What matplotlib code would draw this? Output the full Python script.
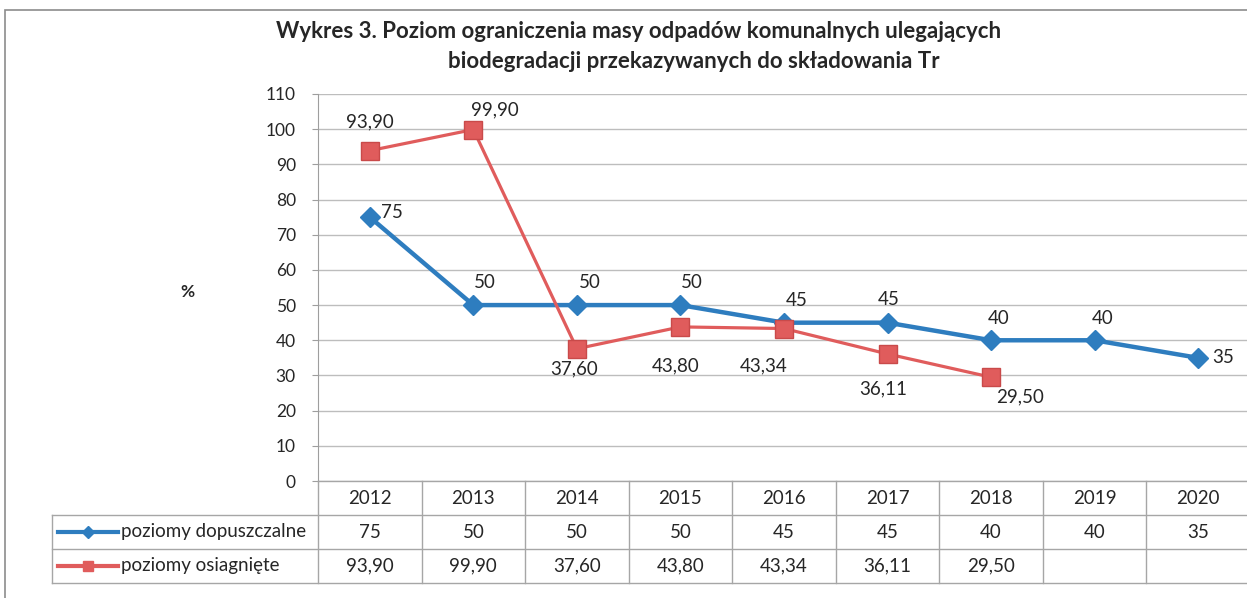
import matplotlib
matplotlib.use('Agg')
import matplotlib.pyplot as plt
from matplotlib.patches import Rectangle
from matplotlib.lines import Line2D

plt.rcParams['font.family'] = ['Lato', 'DejaVu Sans']

years = ['2012', '2013', '2014', '2015', '2016', '2017', '2018', '2019', '2020']
dopuszczalne = [75, 50, 50, 50, 45, 45, 40, 40, 35]
osiagniete = [93.90, 99.90, 37.60, 43.80, 43.34, 36.11, 29.50]
name_dop = 'poziomy dopuszczalne'
name_osi = 'poziomy osiagnięte'
title1 = 'Wykres 3. Poziom ograniczenia masy odpadów komunalnych ulegających'
title2 = 'biodegradacji przekazywanych do składowania Tr'

blue = '#2E7DBF'
red = '#E05C5C'
grid_c = '#BDBDBD'
txt_c = '#262626'

# label offsets in pixels (dx, dy up)
off_dop = [(22, 5), (11, 23), (13, 23), (11, 23), (13, 22), (1, 23), (8, 22), (8, 22), (25, 0)]
off_osi = [(0, 29), (22, 20), (-3, -20), (-5, -39), (-20, -37), (-4, -35), (29, -20)]

W, H = 1247, 598
fig = plt.figure(figsize=(W / 100, H / 100), dpi=100)

def fx(px):
    return px / W

def fy(py):
    return 1 - py / H

fs = 13.5
left, right, top, bot = 318, 1250, 94, 481
ax = fig.add_axes([fx(left), fy(bot), fx(right) - fx(left), fy(top) - fy(bot)])
x = list(range(len(years)))
ax.set_xlim(-0.5, len(years) - 0.5)
ax.set_ylim(0, 110)
ax.set_yticks(range(0, 111, 10))
ax.set_xticks([])
ax.grid(axis='y', color=grid_c, lw=1)
ax.set_axisbelow(True)
for s in ['top', 'right', 'bottom']:
    ax.spines[s].set_visible(False)
ax.spines['left'].set_color('#9E9E9E')
ax.tick_params(axis='y', length=4, color='#9E9E9E', labelsize=12.5, labelcolor=txt_c, pad=12)

ax.plot(x, dopuszczalne, color=blue, lw=3.2, marker='D', ms=10, mfc=blue, mec=blue, zorder=3)
xo = x[:len(osiagniete)]
ax.plot(xo, osiagniete, color=red, lw=2.3, marker='s', ms=13, mfc=red, mec='#C94A4A', zorder=4)

def fmt(v):
    return ('%.2f' % v).replace('.', ',')

for xi, v, (dx, dy) in zip(x, dopuszczalne, off_dop):
    ax.annotate(str(v), (xi, v), xytext=(dx * 0.72, dy * 0.72), textcoords='offset points',
                ha='center', va='center', fontsize=fs, color=txt_c, zorder=5)
for xi, v, (dx, dy) in zip(xo, osiagniete, off_osi):
    ax.annotate(fmt(v), (xi, v), xytext=(dx * 0.72, dy * 0.72), textcoords='offset points',
                ha='center', va='center', fontsize=fs, color=txt_c, zorder=5)

fig.text(fx(187), fy(292), '%', ha='center', va='center', fontsize=12.5,
         fontweight='bold', color=txt_c)
fig.text(fx(639), fy(32), title1, ha='center', va='center', fontsize=16,
         fontweight='bold', color=txt_c)
fig.text(fx(694), fy(62), title2, ha='center', va='center', fontsize=16,
         fontweight='bold', color=txt_c)

# data table
tab = fig.add_axes([fx(left), fy(583), fx(right) - fx(left), fy(bot) - fy(583)])
tab.set_xlim(-0.5, len(years) - 0.5)
tab.set_ylim(0, 3)
tab.axis('off')
lc = '#A6A6A6'
cw = (right - left) / len(years)

def tx(px):
    return -0.5 + (px - left) / cw

xl = tx(52)
tab.plot([-0.5, len(years) - 0.5], [3, 3], color=lc, lw=1, clip_on=False)
for yy in [2, 1, 0]:
    tab.plot([xl, len(years) - 0.5], [yy, yy], color=lc, lw=1, clip_on=False)
tab.plot([xl, xl], [0, 2], color=lc, lw=1, clip_on=False)
for k in range(len(years) + 1):
    tab.plot([k - 0.5, k - 0.5], [0, 3], color=lc, lw=1, clip_on=False)
for k, yr in enumerate(years):
    tab.text(k, 2.5, yr, ha='center', va='center', fontsize=fs, color=txt_c)
for k, v in enumerate(dopuszczalne):
    tab.text(k, 1.5, str(v), ha='center', va='center', fontsize=fs, color=txt_c)
for k, v in enumerate(osiagniete):
    tab.text(k, 0.5, fmt(v), ha='center', va='center', fontsize=fs, color=txt_c)

for yy, name, col, mk, ms in [(1.5, name_dop, blue, 'D', 6), (0.5, name_osi, red, 's', 7)]:
    tab.add_line(Line2D([tx(58), tx(118)], [yy, yy], color=col, lw=3, clip_on=False))
    tab.add_line(Line2D([tx(88)], [yy], color=col, marker=mk, ms=ms, clip_on=False))
    tab.text(tx(121), yy, name, ha='left', va='center', fontsize=fs, color=txt_c)

fig.add_artist(Rectangle((fx(5), fy(1000)), fx(1400), fy(10) - fy(1000), fill=False,
                         edgecolor='#8C8C8C', lw=1.2, transform=fig.transFigure))

fig.savefig('out.png', dpi=100)
